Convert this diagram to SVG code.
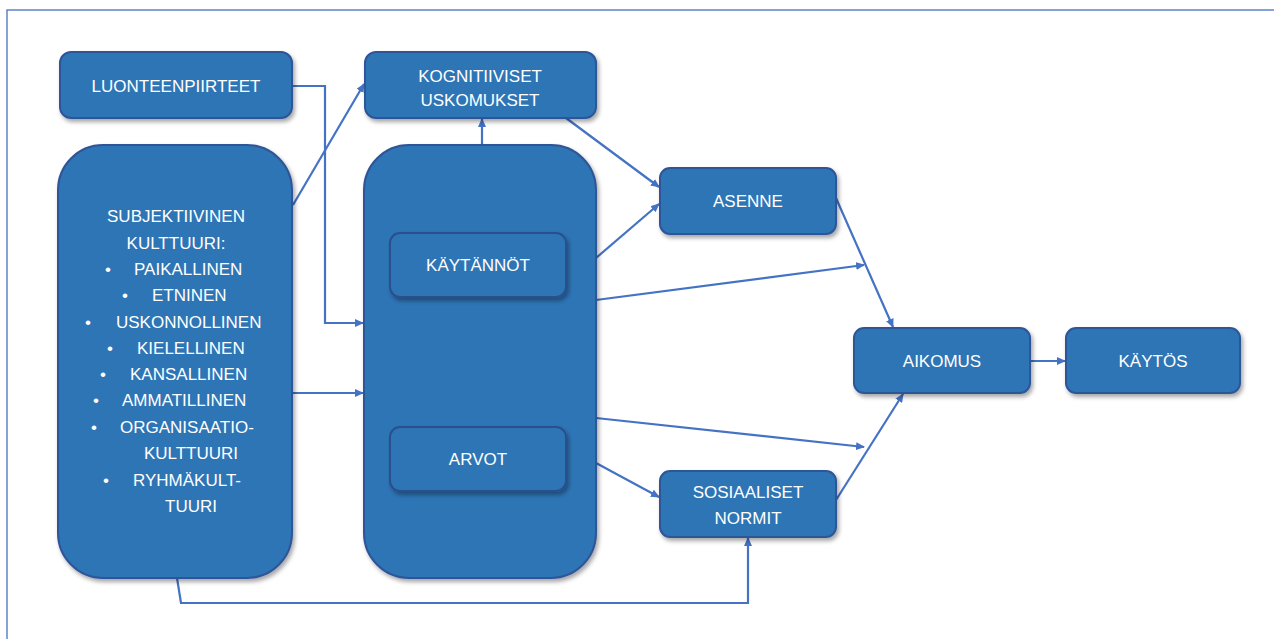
<svg xmlns="http://www.w3.org/2000/svg" width="1274" height="639" viewBox="0 0 1274 639">
<style>
.box{fill:#2e75b6;stroke:#2f5597;stroke-width:2;filter:url(#sh)}
.inner{fill:#2e75b6;stroke:#2a4f8f;stroke-width:2;filter:url(#sh)}
.t{font-family:"Liberation Sans",Arial,sans-serif;font-size:17px;fill:#ffffff;text-anchor:middle;dominant-baseline:central}
.tl{font-family:"Liberation Sans",Arial,sans-serif;font-size:17px;fill:#ffffff;dominant-baseline:central}
.c{fill:none;stroke:#4472c4;stroke-width:2.2;marker-end:url(#ah)}
</style>
<defs>
<filter id="sh" x="-10%" y="-10%" width="130%" height="130%">
<feDropShadow dx="2" dy="3" stdDeviation="2" flood-color="#000" flood-opacity="0.35"/>
</filter>
<marker id="ah" markerWidth="9" markerHeight="8" refX="8" refY="4" orient="auto" markerUnits="userSpaceOnUse">
<path d="M0,0 L9,4 L0,8 Z" fill="#4472c4"/>
</marker>
</defs>
<rect x="0" y="0" width="1274" height="639" fill="#ffffff"/>
<rect x="7" y="10" width="1300" height="700" fill="none" stroke="#4472c4" stroke-width="1.3"/>

<g id="connectors">
<path class="c" d="M292,86 H325 V323 H363"/>
<path class="c" d="M293,205 L364,84"/>
<path class="c" d="M292,393 H363"/>
<path class="c" d="M177,578 L181,603 H748 V538"/>
<path class="c" d="M482,145 V119"/>
<path class="c" d="M566,118 L659,187"/>
<path class="c" d="M596,258 L659,204"/>
<path class="c" d="M596,300 L864,265"/>
<path class="c" d="M836,198 L893,327"/>
<path class="c" d="M596,418 L864,447"/>
<path class="c" d="M596,463 L659,497"/>
<path class="c" d="M836,500 L903,394"/>
<path class="c" d="M1030,361 H1065"/>
</g>

<g id="luonteenpiirteet">
<rect class="box" x="60" y="52" width="232" height="66" rx="11"/>
<text class="t" x="176" y="86">LUONTEENPIIRTEET</text>
</g>
<g id="kognitiiviset">
<rect class="box" x="365" y="52" width="231" height="66" rx="11"/>
<text class="t" x="480" y="76">KOGNITIIVISET</text>
<text class="t" x="480" y="100">USKOMUKSET</text>
</g>
<g id="subjektiivinen">
<rect class="box" x="58" y="145" width="234" height="433" rx="45"/>
<text class="t" x="176" y="216">SUBJEKTIIVINEN</text>
<text class="t" x="176" y="243">KULTTUURI:</text>
<text class="t" x="108" y="269">•</text><text class="tl" x="134" y="269">PAIKALLINEN</text>
<text class="t" x="125" y="295">•</text><text class="tl" x="152" y="295">ETNINEN</text>
<text class="t" x="88" y="322">•</text><text class="tl" x="116" y="322">USKONNOLLINEN</text>
<text class="t" x="110" y="348">•</text><text class="tl" x="137" y="348">KIELELLINEN</text>
<text class="t" x="103" y="374">•</text><text class="tl" x="130" y="374">KANSALLINEN</text>
<text class="t" x="96" y="400">•</text><text class="tl" x="122" y="400">AMMATILLINEN</text>
<text class="t" x="94" y="427">•</text><text class="tl" x="120" y="427">ORGANISAATIO-</text>
<text class="t" x="191" y="453">KULTTUURI</text>
<text class="t" x="106" y="480">•</text><text class="tl" x="133" y="480">RYHMÄKULT-</text>
<text class="t" x="191" y="506">TUURI</text>
</g>
<g id="keskus">
<rect class="box" x="364" y="145" width="232" height="433" rx="45"/>
</g>
<g id="kaytannot">
<rect class="inner" x="390" y="233" width="176" height="64" rx="10"/>
<text class="t" x="478" y="265">KÄYTÄNNÖT</text>
</g>
<g id="arvot">
<rect class="inner" x="390" y="427" width="176" height="64" rx="10"/>
<text class="t" x="478" y="459">ARVOT</text>
</g>
<g id="asenne">
<rect class="box" x="660" y="168" width="176" height="66" rx="10"/>
<text class="t" x="748" y="201">ASENNE</text>
</g>
<g id="sosiaaliset">
<rect class="box" x="660" y="471" width="176" height="66" rx="10"/>
<text class="t" x="748" y="492">SOSIAALISET</text>
<text class="t" x="748" y="518">NORMIT</text>
</g>
<g id="aikomus">
<rect class="box" x="854" y="328" width="176" height="65" rx="10"/>
<text class="t" x="942" y="361">AIKOMUS</text>
</g>
<g id="kaytos">
<rect class="box" x="1066" y="328" width="174" height="65" rx="10"/>
<text class="t" x="1153" y="361">KÄYTÖS</text>
</g>
</svg>
